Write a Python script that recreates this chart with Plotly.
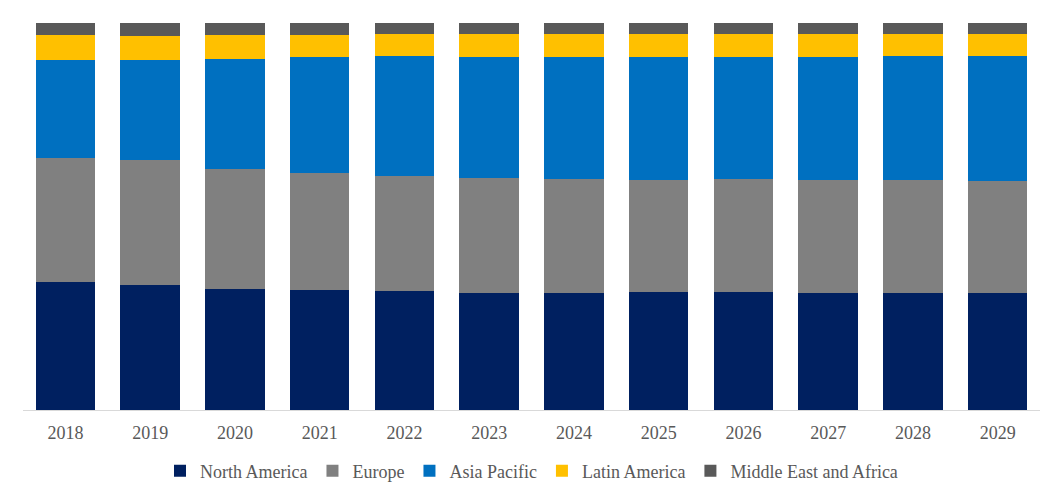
import plotly.graph_objects as go

years = ["2018", "2019", "2020", "2021", "2022", "2023", "2024", "2025", "2026", "2027", "2028", "2029"]
north_america = [33.1, 32.3, 31.3, 31.0, 30.7, 30.2, 30.2, 30.5, 30.5, 30.2, 30.2, 30.2]
europe = [32.0, 32.3, 31.0, 30.2, 29.7, 29.7, 29.5, 28.9, 29.2, 29.2, 29.2, 28.9]
asia_pacific = [25.3, 25.8, 28.4, 30.0, 31.0, 31.3, 31.5, 31.8, 31.5, 31.8, 32.0, 32.3]
latin_america = [6.5, 6.2, 6.2, 5.7, 5.7, 5.9, 5.9, 5.9, 5.9, 5.9, 5.7, 5.7]
mea = [3.1, 3.4, 3.1, 3.1, 2.8, 2.8, 2.8, 2.8, 2.8, 2.8, 2.8, 2.8]

series = [
    ("North America", north_america, "#002060"),
    ("Europe", europe, "#808080"),
    ("Asia Pacific", asia_pacific, "#0070C0"),
    ("Latin America", latin_america, "#FFC000"),
    ("Middle East and Africa", mea, "#595959"),
]

fig = go.Figure()
for name, vals, color in series:
    fig.add_trace(go.Bar(x=years, y=vals, name=name, marker=dict(color=color, line=dict(width=0))))

fig.update_layout(
    barmode="stack",
    barnorm="percent",
    bargap=0.30,
    width=1063,
    height=502,
    margin=dict(l=15, r=31, t=15, b=100),
    plot_bgcolor="white",
    paper_bgcolor="white",
    font=dict(family="Liberation Serif, Times New Roman, serif", size=18, color="#595959"),
    xaxis=dict(showline=True, linecolor="#d9d9d9", linewidth=1, ticks="", showgrid=False,
               ticklabelstandoff=6, tickfont=dict(size=18, color="#595959")),
    yaxis=dict(visible=False, range=[0, 100]),
    legend=dict(orientation="h", x=0.5, xanchor="center", y=-0.158, yanchor="middle",
                font=dict(size=18, color="#595959"), itemwidth=30, traceorder="normal"),
    showlegend=True,
)

fig.write_html("out.html")
